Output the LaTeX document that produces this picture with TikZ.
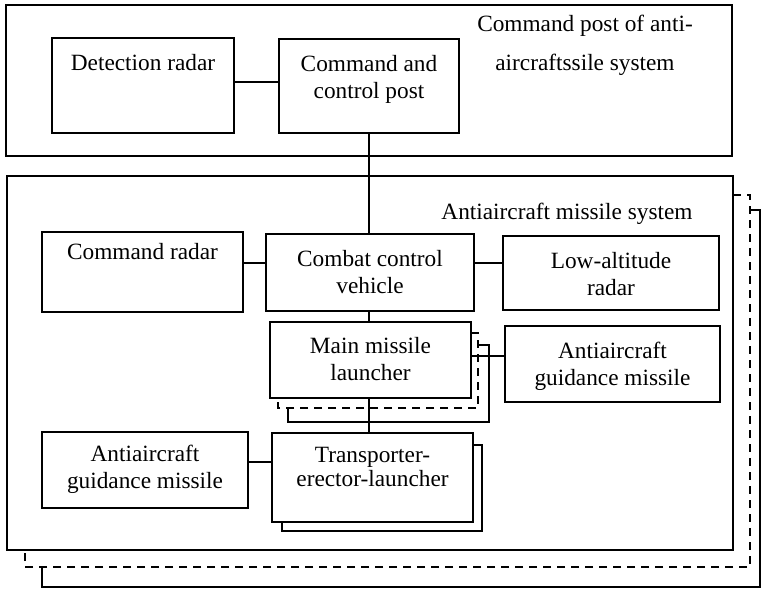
\documentclass[tikz,border=0pt]{standalone}
\usepackage{fontspec}
\setmainfont{Liberation Serif}
\begin{document}
\begin{tikzpicture}[x=1pt,y=-1pt,
  box/.style={draw,line width=1.7pt,rectangle,inner sep=0pt,fill=white},
  conn/.style={line width=1.7pt},
  shadowdash/.style={line width=1.7pt,dash pattern=on 8pt off 6pt},
  lbl/.style={anchor=north,align=center,inner sep=0pt,yshift=-3pt,font=\fontsize{23.3}{27}\selectfont},
  ]
\path[use as bounding box] (0,0) rectangle (761,589);

% outer frames
\node[box,minimum width=726pt,minimum height=151pt] (outerTop) at (369,80.5) {};
\node[box,minimum width=726pt,minimum height=374pt] (outerSys) at (370,363) {};

% outer shadows
\coordinate (oa) at (733,195);
\coordinate (ob) at (25,550);
\draw[shadowdash] (oa) -- (750,195) -- (750,567) -- (25,567) -- (ob);
\coordinate (oc) at (750,210);
\coordinate (od) at (42,567);
\draw[conn] (oc) -- (760,210) -- (760,587) -- (42,587) -- (od);

% top part
\node[box,minimum width=182pt,minimum height=95pt] (detect) at (143,85.5) {};
\node[box,minimum width=180pt,minimum height=94pt] (ccp) at (369,86) {};
\node[lbl] (tDetect) at (143,51) {Detection radar};
\node[lbl] (tCcp) at (369,52) {Command and\\control post};
\node[lbl,font=\fontsize{23.3}{39}\selectfont] (tTitle) at (585,12) {Command post of anti-\\aircraftssile system};

% system part
\node[lbl] (tSys) at (567,200) {Antiaircraft missile system};

\node[box,minimum width=201pt,minimum height=80pt] (cmdradar) at (142.5,272) {};
\node[box,minimum width=208pt,minimum height=77pt] (ccv) at (370,272.5) {};
\node[box,minimum width=216pt,minimum height=74pt] (lowalt) at (611,273) {};
\node[lbl] (tCmdRadar) at (142.5,240) {Command radar};
\node[lbl] (tCcv) at (370,247) {Combat control\\vehicle};
\node[lbl] (tLow) at (611,249) {Low-altitude\\radar};

% main missile launcher with shadows
\coordinate (ma) at (471,333);
\coordinate (mb) at (278,398);
\draw[shadowdash] (ma) -- (478,333) -- (478,408) -- (278,408) -- (mb);
\coordinate (mc) at (478,345);
\coordinate (md) at (288,408);
\draw[conn] (mc) -- (489,345) -- (489,422) -- (288,422) -- (md);
\node[box,minimum width=201pt,minimum height=76pt] (mml) at (370.5,360) {};
\node[lbl] (tMml) at (370.5,334) {Main missile\\launcher};

\node[box,minimum width=215pt,minimum height=76pt] (aagmR) at (612.5,364) {};
\node[lbl] (tAagmR) at (612.5,339) {Antiaircraft\\guidance missile};

% transporter-erector-launcher with shadow
\node[box,minimum width=200pt,minimum height=86pt] (telShadow) at (382,488) {};
\node[box,minimum width=201pt,minimum height=89pt] (tel) at (372.5,477.5) {};
\node[lbl,font=\fontsize{23.3}{24}\selectfont] (tTel) at (372.5,444) {Transporter-\\erector-launcher};

\node[box,minimum width=206pt,minimum height=76pt] (aagmL) at (145,470) {};
\node[lbl] (tAagmL) at (145,442) {Antiaircraft\\guidance missile};

% connectors
\draw[conn] (detect.east |- 0,82) -- (ccp.west |- 0,82);
\draw[conn] (ccp.south) -- (ccp.south |- ccv.north);
\draw[conn] (cmdradar.east |- 0,263) -- (ccv.west |- 0,263);
\draw[conn] (ccv.east |- 0,263) -- (lowalt.west |- 0,263);
\draw[conn] (ccv.south -| ccp.south) -- (ccp.south |- mml.north);
\draw[conn] (mml.east |- 0,356) -- (aagmR.west |- 0,356);
\draw[conn] (mml.south -| ccp.south) -- (ccp.south |- tel.north);
\draw[conn] (aagmL.east |- 0,462) -- (tel.west |- 0,462);
\end{tikzpicture}
\end{document}
